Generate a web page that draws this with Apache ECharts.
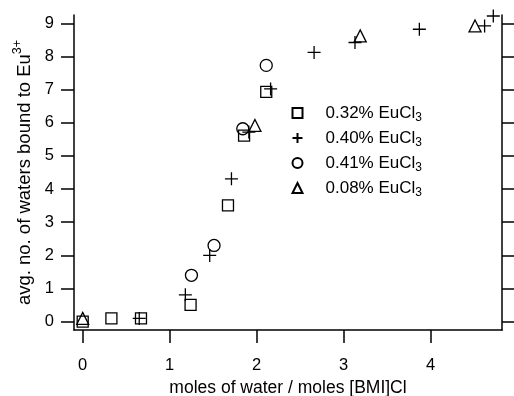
<!DOCTYPE html>
<html>
<head>
<meta charset="utf-8">
<script src="https://cdn.jsdelivr.net/npm/echarts@6/dist/echarts.min.js"></script>
<style>
  html, body { margin: 0; padding: 0; background: #fff; }
  #chart { width: 514px; height: 396px; }
</style>
</head>
<body>
<div id="chart"></div>
<script>
// Hydration of Eu3+ in [BMI]Cl versus water content
const xTicks = [0, 1, 2, 3, 4];
const yTicks = [0, 1, 2, 3, 4, 5, 6, 7, 8, 9];

const seriesNames = ['0.32% EuCl3', '0.40% EuCl3', '0.41% EuCl3', '0.08% EuCl3'];

// [moles water / moles [BMI]Cl, avg. waters bound]
const eu032 = [[0, 0], [0.33, 0.1], [0.67, 0.1], [1.24, 0.51], [1.67, 3.51], [1.855, 5.61], [2.11, 6.93]];
const eu040 = [[0.65, 0.1], [1.18, 0.81], [1.46, 2.0], [1.71, 4.31], [1.91, 5.72], [2.16, 7.02],
               [2.66, 8.12], [3.13, 8.42], [3.87, 8.82], [4.62, 8.92], [4.72, 9.22]];
const eu041 = [[1.25, 1.4], [1.51, 2.3], [1.84, 5.82], [2.11, 7.73]];
const eu008 = [[0, 0.1], [1.98, 5.92], [3.19, 8.62], [4.51, 8.92]];

const seriesData = [eu032, eu040, eu041, eu008];
const symbols = ['rect', 'path://M5,0 L5,10 M0,5 L10,5', 'circle', 'triangle'];
const symbolSizes = [11, 13, 12, 12];

const FONT = 'Liberation Sans, Arial, Helvetica, sans-serif';

const chart = echarts.init(document.getElementById('chart'));

const lineStyle = { color: '#000', width: 1.5 };

chart.setOption({
  animation: false,
  backgroundColor: '#fff',
  grid: { left: 74, right: 12, top: 15, bottom: 66, outerBoundsMode: 'none', containLabel: false },
  xAxis: {
    type: 'value',
    min: -0.1,
    max: 4.82,
    name: 'moles of water / moles [BMI]Cl',
    nameLocation: 'middle',
    nameGap: 47,
    nameTextStyle: { color: '#000', fontSize: 17.5, fontFamily: FONT },
    axisLine: { onZero: false, lineStyle: lineStyle },
    axisTick: { show: true, length: 13, lineStyle: lineStyle, customValues: xTicks },
    axisLabel: { color: '#000', fontSize: 16.5, fontFamily: FONT, margin: 27, customValues: xTicks },
    splitLine: { show: false }
  },
  yAxis: [{
    type: 'value',
    min: -0.25,
    max: 9.25,
    name: 'avg. no. of waters bound to Eu{sup|3+}',
    nameLocation: 'middle',
    nameGap: 28,
    nameTextStyle: {
      color: '#000', fontSize: 18.5, fontFamily: FONT,
      rich: { sup: { fontSize: 12.5, fontFamily: FONT, color: '#000', padding: [0, 0, 13, 0] } }
    },
    axisLine: { show: true, onZero: false, lineStyle: lineStyle },
    axisTick: { show: true, length: 13, lineStyle: lineStyle, customValues: yTicks },
    axisLabel: { color: '#000', fontSize: 16.5, fontFamily: FONT, margin: 20, customValues: yTicks },
    splitLine: { show: false }
  }, {
    type: 'value',
    position: 'right',
    min: -0.25,
    max: 9.25,
    axisLine: { show: true, onZero: false, lineStyle: lineStyle },
    axisTick: { show: true, length: 13, lineStyle: lineStyle, customValues: yTicks },
    axisLabel: { show: false },
    splitLine: { show: false }
  }],
  legend: {
    orient: 'vertical',
    left: 286.5,
    top: 99.5,
    itemWidth: 10,
    itemHeight: 10,
    itemGap: 5.5,
    data: seriesNames,
    formatter: function (name) {
      return '{a|' + name.slice(0, -1) + '}{s|' + name.slice(-1) + '}';
    },
    textStyle: {
      color: '#000',
      rich: {
        a: { fontSize: 17, fontFamily: FONT, color: '#000', padding: [0, 0, 0, 18] },
        s: { fontSize: 12, fontFamily: FONT, color: '#000', padding: [10, 0, 0, 0] }
      }
    }
  },
  series: seriesNames.map(function (name, i) {
    return {
      name: name,
      type: 'scatter',
      data: seriesData[i],
      symbol: symbols[i],
      symbolSize: symbolSizes[i],
      clip: false,
      itemStyle: { color: 'rgba(0,0,0,0)', borderColor: '#000', borderWidth: 1.3, opacity: 1 },
      emphasis: { disabled: true }
    };
  })
});
</script>
</body>
</html>
